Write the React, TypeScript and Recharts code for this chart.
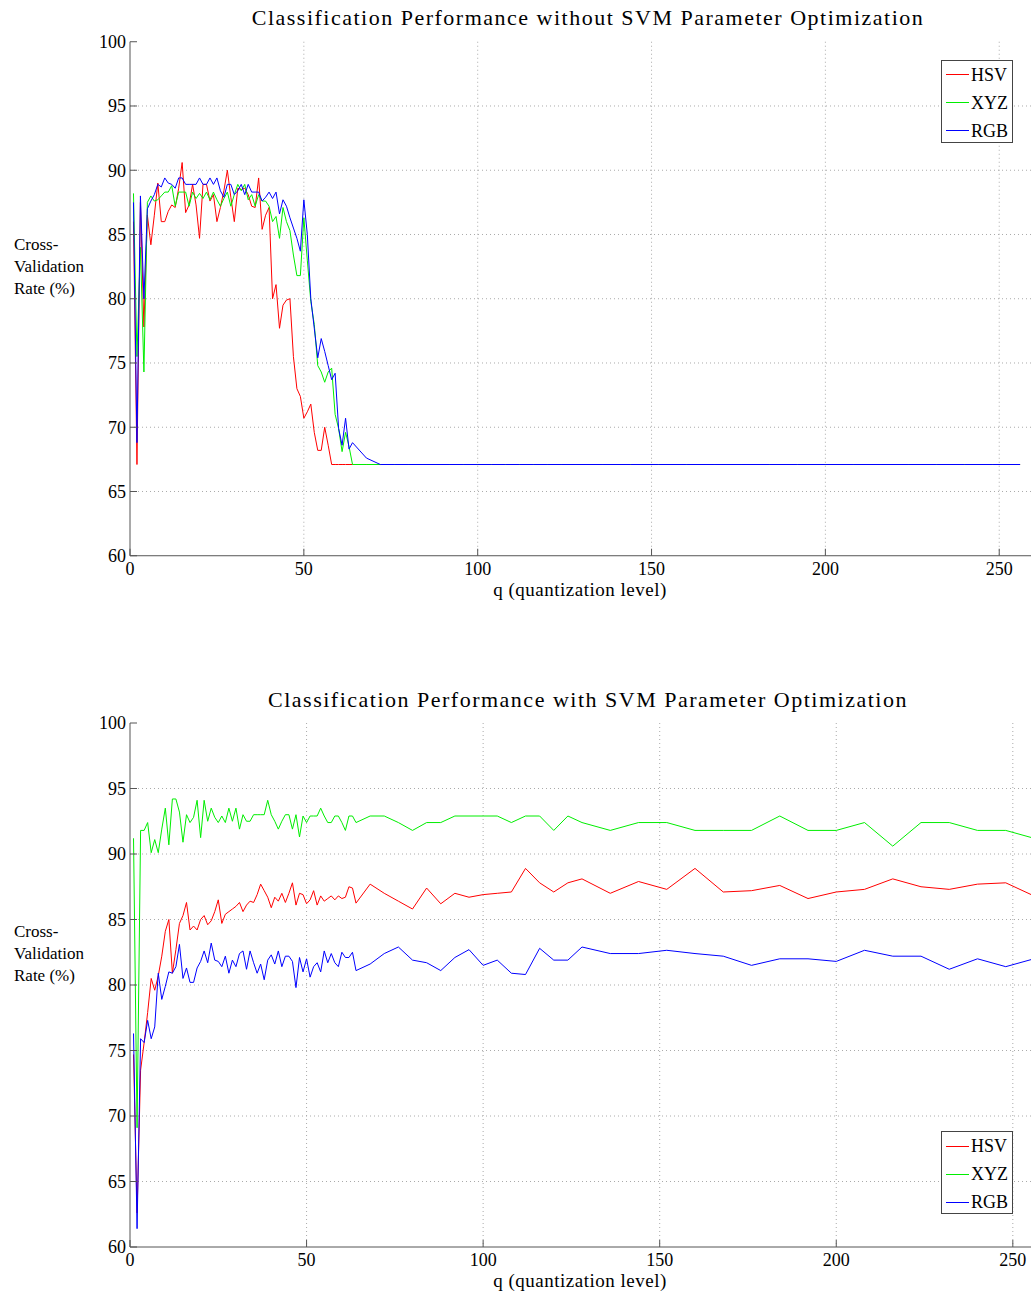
import React from 'react';
import { LineChart, Line, XAxis, YAxis, CartesianGrid } from 'recharts';

const qLevels = [1,2,3,4,5,6,7,8,9,10,11,12,13,14,15,16,17,18,19,20,21,22,23,24,25,26,27,28,29,30,31,32,33,34,35,36,37,38,39,40,41,42,43,44,45,46,47,48,49,50,51,52,53,54,55,56,57,58,59,60,61,62,63,64,68,72,76,80,84,88,92,96,100,104,108,112,116,120,124,128,136,144,152,160,168,176,184,192,200,208,216,224,232,240,248,256];

const seriesNames = ['HSV', 'XYZ', 'RGB'];
const seriesColors = ['#ff0000', '#00ee00', '#0000ff'];

const topHSV = [86.0,67.1,87.5,77.8,86.5,84.2,86.5,89.0,86.0,86.0, 86.8,87.3,87.1,88.6,90.6,86.7,87.3,88.9,87.3,84.7, 88.9,88.9,87.6,88.1,86.0,87.1,88.4,90.0,87.9,86.0, 88.6,88.5,88.6,88.1,87.2,87.1,89.4,85.4,86.5,87.1, 80.0,81.1,77.7,79.5,79.9,80.0,75.5,73.0,72.4,70.7, 71.2,71.8,69.6,68.2,68.2,70.0,68.6,67.1,67.1,67.1, 67.1,67.1,67.1,67.1, 67.1,67.1,67.1,67.1,67.1,67.1,67.1,67.1,67.1,67.1,67.1,67.1,67.1,67.1,67.1,67.1, 67.1,67.1,67.1,67.1,67.1,67.1,67.1,67.1,67.1,67.1,67.1,67.1,67.1,67.1,67.1,67.1];
const topXYZ = [88.2,75.5,84.0,74.3,87.5,88.0,87.6,87.7,88.0,88.3, 88.3,88.8,87.2,88.3,88.3,88.3,87.2,88.3,87.8,88.2, 87.8,88.3,87.7,88.3,87.7,87.2,87.8,88.3,87.2,88.1, 88.9,88.4,88.9,87.7,88.1,87.2,88.1,87.6,87.6,87.2, 86.0,86.4,84.7,87.1,86.0,85.3,83.4,81.8,81.8,86.3, 83.0,79.8,78.0,74.8,74.3,73.5,74.3,74.6,71.0,69.9, 68.1,69.6,68.5,67.1, 67.1,67.1,67.1,67.1,67.1,67.1,67.1,67.1,67.1,67.1,67.1,67.1,67.1,67.1,67.1,67.1, 67.1,67.1,67.1,67.1,67.1,67.1,67.1,67.1,67.1,67.1,67.1,67.1,67.1,67.1,67.1,67.1];
const topRGB = [87.5,68.8,88.0,80.0,87.0,87.6,88.1,88.9,88.7,89.4, 89.0,88.9,88.6,89.4,89.4,88.9,88.9,88.9,88.9,89.4, 88.9,88.9,89.4,88.9,89.4,88.4,87.9,88.9,88.9,88.1, 88.4,88.9,88.1,88.9,88.3,88.3,88.3,87.6,87.9,88.3, 87.8,88.3,86.6,87.7,87.2,86.3,85.5,84.7,83.7,87.7, 85.0,80.0,77.7,75.4,76.9,75.9,74.8,73.7,74.2,69.9, 68.6,70.7,68.3,68.8, 67.6,67.1,67.1,67.1,67.1,67.1,67.1,67.1,67.1,67.1,67.1,67.1,67.1,67.1,67.1,67.1, 67.1,67.1,67.1,67.1,67.1,67.1,67.1,67.1,67.1,67.1,67.1,67.1,67.1,67.1,67.1,67.1];

const botHSV = [74.7,62.6,73.5,75.6,77.9,80.5,79.6,80.7,82.2,84.1, 85.0,80.9,82.7,84.7,85.3,86.3,84.2,84.5,84.2,85.0, 85.3,84.6,84.9,85.6,86.5,84.7,85.4,85.6,85.8,86.0, 86.3,85.6,86.1,86.4,86.3,86.9,87.7,87.2,86.7,85.9, 86.7,86.4,87.0,86.3,87.0,87.8,86.1,87.0,86.9,86.2, 86.5,87.2,86.1,86.8,86.4,86.6,86.8,86.5,86.8,86.6, 86.7,87.5,87.4,86.25, 87.7,87.0,86.4,85.8,87.4,86.2,87.0,86.7,86.9,87.0,87.1,88.9,87.8,87.1,87.8,88.1, 87.0,87.9,87.3,88.9,87.1,87.2,87.6,86.6,87.1,87.3,88.1,87.5,87.3,87.7,87.8,86.8];
const botXYZ = [91.2,69.1,91.8,91.8,92.4,90.1,91.1,90.1,91.9,93.5, 90.7,94.2,94.2,93.2,90.9,93.0,92.4,92.8,94.1,91.25, 94.1,92.5,93.5,92.8,92.4,92.9,92.4,93.5,92.5,93.5, 91.9,93.0,92.5,92.5,93.0,93.0,93.0,93.0,94.1,93.0, 92.5,91.9,92.5,93.0,93.0,91.9,93.0,91.3,92.9,92.4, 92.9,92.9,92.9,93.5,92.9,92.4,92.4,92.9,92.9,92.4, 91.8,92.9,92.9,92.4, 92.9,92.9,92.4,91.8,92.4,92.4,92.9,92.9,92.9,92.9,92.4,92.9,92.9,91.8,92.9,92.4, 91.8,92.4,92.4,91.8,91.8,91.8,92.9,91.8,91.8,92.4,90.6,92.4,92.4,91.8,91.8,91.2];
const botRGB = [76.3,61.4,75.9,75.6,77.3,75.9,76.8,80.9,78.9,79.9, 81.0,80.9,81.4,83.1,80.5,81.3,80.2,80.2,81.3,81.8, 82.6,81.7,83.2,81.9,81.8,81.4,82.2,80.9,81.9,81.4, 82.4,82.6,81.2,82.6,81.7,80.9,81.6,80.4,81.9,82.3, 81.6,82.6,81.4,82.2,82.2,81.8,79.8,82.1,81.0,82.0, 80.6,81.4,81.7,81.0,82.6,81.7,82.4,81.7,81.4,82.5, 82.1,82.1,82.5,81.1, 81.6,82.4,82.9,81.9,81.7,81.1,82.1,82.7,81.5,81.9,80.9,80.8,82.8,81.9,81.9,82.9, 82.4,82.4,82.65,82.4,82.2,81.5,82.0,82.0,81.8,82.65,82.2,82.2,81.2,82.0,81.4,82.0];

const xTicks = [0, 50, 100, 150, 200, 250];
const yTicks = [60, 65, 70, 75, 80, 85, 90, 95, 100];

const topTitle = 'Classification Performance without SVM Parameter Optimization';
const botTitle = 'Classification Performance with SVM Parameter Optimization';
const xLabel = 'q (quantization level)';
const yLabelLines = ['Cross-', 'Validation', 'Rate (%)'];

const build = (a: number[], b: number[], c: number[]) =>
  qLevels.map((q, i) => ({ q, HSV: a[i], XYZ: b[i], RGB: c[i] }));

const topData = build(topHSV, topXYZ, topRGB);
const botData = build(botHSV, botXYZ, botRGB);

const FONT = '"Liberation Serif", "DejaVu Serif", serif';
const AXIS = '#555';
const TICK_IN = 7;

function Panel({ data, xMax, top, plotTop, plotH, title, legendTop, legendLineY }: any) {
  const W = 1060;
  const H = 620 + (plotH > 515 ? 10 : 0);
  const xAxisH = H - plotTop - plotH;
  return (
    <div style={{ position: 'absolute', left: 0, top, width: W, height: H }}>
      <LineChart width={W} height={H} data={data} margin={{ top: plotTop, right: 26, left: 0, bottom: 0 }}>
        <CartesianGrid stroke="#aaa" strokeDasharray="1 3" horizontalValues={yTicks.slice(1, -1)} verticalValues={xTicks.slice(1)} />
        <XAxis
          dataKey="q"
          type="number"
          domain={[0, xMax]}
          ticks={xTicks}
          allowDataOverflow
          height={xAxisH}
          stroke={AXIS}
          tickSize={-TICK_IN}
          tickMargin={TICK_IN + 6}
          tick={{ fill: '#000', fontSize: 18, fontFamily: FONT }}
        />
        <XAxis
          xAxisId="top"
          orientation="top"
          dataKey="q"
          type="number"
          domain={[0, xMax]}
          ticks={xTicks}
          allowDataOverflow
          height={0}
          stroke={AXIS}
          tickSize={-TICK_IN}
          tick={() => <g />}
        />
        <YAxis
          type="number"
          domain={[60, 100]}
          ticks={yTicks}
          allowDataOverflow
          width={130}
          stroke={AXIS}
          tickSize={-TICK_IN}
          tickMargin={TICK_IN + 4}
          tick={{ fill: '#000', fontSize: 18, fontFamily: FONT }}
        />
        {seriesNames.map((n, i) => (
          <Line key={n} type="linear" dataKey={n} stroke={seriesColors[i]} strokeWidth={1} dot={false} isAnimationActive={false} />
        ))}
      </LineChart>
      <div style={{ position: 'absolute', left: 588, top: 5, transform: 'translateX(-50%)', whiteSpace: 'nowrap', fontFamily: FONT, fontSize: 22, letterSpacing: 1.5, color: '#000' }}>{title}</div>
      <div style={{ position: 'absolute', left: 580, top: plotTop + plotH + 24, transform: 'translateX(-50%)', whiteSpace: 'nowrap', fontFamily: FONT, fontSize: 19, lineHeight: '19px', letterSpacing: 0.5, color: '#000' }}>{xLabel}</div>
      <div style={{ position: 'absolute', left: 14, top: 41 + plotH / 2 - 64, fontFamily: FONT, fontSize: 17, lineHeight: '22px', color: '#000' }}>
        {yLabelLines.map((l) => <div key={l}>{l}</div>)}
      </div>
      <div style={{ position: 'absolute', left: 941, top: legendTop, width: 70, height: 81, border: '1px solid #444', background: '#fff', fontFamily: FONT, fontSize: 18 }}>
        <svg width={30} height={81} style={{ position: 'absolute', left: 0, top: 0 }}>
          {seriesNames.map((n, i) => (
            <line key={n} x1={4} x2={27} y1={legendLineY + i * 28} y2={legendLineY + i * 28} stroke={seriesColors[i]} strokeWidth={1} />
          ))}
        </svg>
        {seriesNames.map((n, i) => (
          <div key={n} style={{ position: 'absolute', left: 29, top: 3 + i * 28, height: 22, lineHeight: '22px' }}>{n}</div>
        ))}
      </div>
    </div>
  );
}

export default function App() {
  return (
    <div style={{ position: 'absolute', left: 0, top: 0, width: 1031, height: 1294, overflow: 'hidden', background: '#fff' }}>
      <Panel data={topData} xMax={260} top={0} plotTop={41.735} plotH={514} title={topTitle} legendTop={60} legendLineY={13.5} />
      <Panel data={botData} xMax={256} top={682} plotTop={41} plotH={524} title={botTitle} legendTop={1131 - 682} legendLineY={14.5} />
    </div>
  );
}
